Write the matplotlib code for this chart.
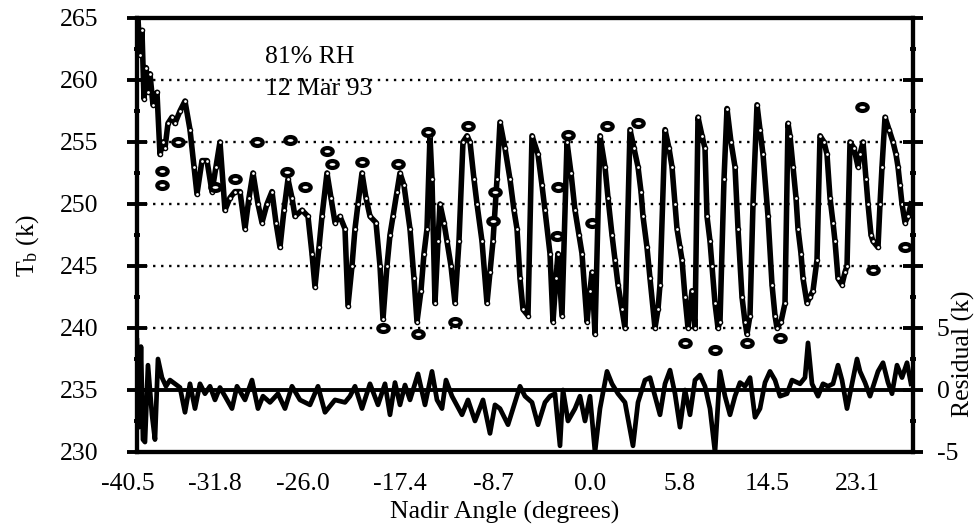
import matplotlib
matplotlib.use("Agg")
import matplotlib.pyplot as plt
import matplotlib.transforms as mtransforms
from matplotlib.markers import MarkerStyle
from matplotlib.ticker import MultipleLocator, FuncFormatter

plt.rcParams["font.family"] = ["Liberation Serif", "DejaVu Serif"]
plt.rcParams["mathtext.fontset"] = "custom"
plt.rcParams["mathtext.rm"] = "Liberation Serif"
plt.rcParams["mathtext.it"] = "Liberation Serif:italic"

# sample index along the scan (x), brightness temperature (K)
scan_x = [0.5, 1.5, 2.5, 3.5, 4.5, 5.5, 6.5, 8, 10, 11.5, 13, 14, 15.5, 17.5, 19, 21.5,
          24, 26.5, 28.5, 30, 32.5, 35, 37.5, 39.5, 41.5, 44, 46.5, 49, 51.5, 54, 56, 58,
          60.5, 62.5, 65, 67.5, 69.5, 71.5, 73.5, 75.5, 77.5, 79, 82.5, 85.5, 87.5, 89,
          91, 92.5, 95, 97, 99, 101.5, 104, 105.5, 107.5, 109, 110.5, 112.5, 114.5, 116.5,
          119.5, 121.5, 123, 125, 126.5, 128, 130, 131.5, 133.5, 136.5, 138.5, 140, 142,
          143.5, 145, 146.5, 147.5, 149, 150.5, 151.5, 153.5, 155, 157, 159, 161, 163, 165,
          166.5, 168.5, 170, 172.5, 175, 176.5, 178, 180, 181.5, 184, 186.5, 188.5, 190,
          191.5, 193, 195.5, 197.5, 200.5, 202.5, 204, 206.5, 208, 209.5, 210.5, 212.5,
          215, 217, 219, 221, 222.5, 225, 226.5, 227.5, 229, 231.5, 234, 235.5, 237.5, 239,
          240.5, 242.5, 244, 246.5, 248.5, 250.5, 252, 253, 255, 256.5, 259, 260.5, 261.5,
          264, 266, 267.5, 269, 270, 271.5, 272.5, 274, 275.5, 277.5, 279, 280.5, 282.5,
          284, 285, 286.5, 287.5, 289, 290.5, 291.5, 293.5, 295, 297, 299, 300.5, 302.5,
          304, 305, 306.5, 308, 310, 311.5, 313, 315.5, 317.5, 319, 320, 322, 324, 325.5,
          326.5, 328, 329.5, 330.5, 332, 333, 335, 336.5, 338, 340, 341.5, 343.5, 345,
          346.5, 348, 349, 350.5, 352.5, 354, 355, 356.5, 358.5, 360.5, 361.5, 363, 364.5,
          365.5, 367, 368, 370.5, 371.5, 372.5, 374, 376, 378, 379.5, 380.5, 381.5, 382.5,
          384, 385.5, 387]
scan_tb = [265, 262, 264, 258.5, 261, 259, 260.5, 258, 259, 254, 255, 254.5, 256.5, 257,
           256.5, 257.5, 258.3, 256, 253, 250.8, 253.5, 253.5, 251, 253, 255, 249.5, 250.5,
           251, 251, 248, 250.5, 252.5, 250, 248.5, 250, 251, 248.5, 246.5, 249.5, 252,
           250.5, 249, 249.5, 249, 246, 243.3, 246.5, 249, 252.5, 250.5, 248.5, 249, 248,
           241.8, 245, 248, 250, 252.5, 250.5, 249, 248.5, 245, 240.7, 245, 247.5, 249, 251,
           252.5, 251.5, 248, 244, 240.5, 243, 246, 248, 255.5, 252, 242, 247, 250, 248.5,
           247, 245, 242, 247, 255, 255.5, 255, 252, 250, 247, 242, 244.5, 247, 252, 256.6,
           254.5, 252, 249.5, 248, 244, 241.5, 241, 255.5, 254, 251.5, 249.5, 246, 240.5,
           244, 246, 241, 255, 252.5, 249.5, 247.5, 246, 240.5, 243, 244.5, 239.5, 255.5,
           253, 250.5, 247.5, 245.5, 243.5, 241.5, 240, 256, 254.5, 253, 251, 249, 246.5,
           244, 240, 241.5, 243.5, 256, 254.5, 253, 250, 248, 246.5, 245.5, 242.5, 240, 243,
           240, 257, 255.5, 254.5, 249, 247, 245, 242, 240, 240.5, 252, 257.7, 255, 253,
           248, 242.5, 240.5, 239.5, 241, 250, 258, 256, 254, 249, 243.5, 241, 240, 240.5,
           242, 256.5, 255.5, 253, 250.5, 248, 246, 244, 242, 242.5, 243, 245.5, 255.5, 255,
           254, 250.5, 248.5, 247, 244, 243.5, 244.5, 245, 255, 254.5, 253, 254, 255, 252,
           250, 247.5, 247, 246.5, 250, 253, 257, 256, 255, 254, 253, 251.5, 250, 248.5,
           249, 250]

# stray measurements plotted as open ovals
extra_x = [12.5, 12.5, 20.5, 39, 49, 60, 75, 76.5, 84, 95, 97.5, 112.5, 130.5, 145.5,
           165.5, 123, 140.5, 159, 178, 179, 210, 210.5, 215.5, 227.5, 235, 250.5, 274,
           289, 305, 321.5, 362.5, 368, 384]
extra_tb = [252.7, 251.5, 255, 251.4, 252, 255, 252.6, 255.2, 251.4, 254.3, 253.2, 253.4,
            253.2, 255.8, 256.3, 240, 239.5, 240.5, 248.6, 251, 247.4, 251.4, 255.6, 248.5,
            256.3, 256.5, 238.8, 238.2, 238.8, 239.2, 257.8, 244.7, 246.5]

# residual (K), right axis
resid_x = [0, 1, 2, 3, 4, 5.5, 7.5, 9, 10.5, 12.5, 14.5, 16.5, 19, 21.5, 24, 26.5, 29,
           31.5, 34, 36.5, 39, 41.5, 44, 47.5, 50, 54, 57.5, 60.5, 63, 66.5, 70.5, 74,
           77.5, 81.5, 86.5, 90.5, 94, 99, 104, 106.5, 109, 112.5, 116.5, 120.5, 124,
           126.5, 129, 131.5, 134, 136.5, 140.5, 144, 147.5, 150, 152.5, 154.5, 157.5,
           162.5, 165.5, 169, 173, 176.5, 179, 181.5, 185.5, 188, 191.5, 194, 197.5, 200.5,
           204, 206.5, 209, 211.5, 213, 215.5, 219, 221.5, 224, 226.5, 229, 231.5, 235,
           237.5, 240.5, 244, 248, 250.5, 254, 256.5, 259, 261.5, 264, 266.5, 269, 271.5,
           274, 276.5, 279, 281.5, 284, 286.5, 289, 291.5, 294, 296.5, 299, 301.5, 304,
           306.5, 309, 311.5, 314, 316.5, 319, 321.5, 325, 327.5, 331.5, 334, 335.5, 337.5,
           340.5, 343, 345.5, 348, 350.5, 352.5, 355, 357.5, 360, 361.5, 364, 366.5, 370.5,
           373, 375.5, 377.5, 380, 382.5, 385, 387]
resid = [4, -3, 3.5, -4, -4.2, 2.0, -2, -4, 2.5, 1, 0.3, 0.8, 0.5, 0.2, -1.8, 0.5, -1.5,
         0.5, -0.3, 0.3, -0.8, 0.2, -0.5, -1.5, 0.3, -0.8, 0.8, -1.5, -0.5, -1, -0.3,
         -1.5, 0.3, -0.8, -1.2, 0.3, -1.8, -0.8, -1, -0.5, 0.3, -1.5, 0.5, -1.2, 0.5, -2.0,
         0.6, -1.2, 0.4, -0.8, 1.3, -1.2, 1.5, -0.8, -1.5, 0.8, -0.5, -2.0, -0.8, -2.5,
         -0.8, -3.5, -1.2, -1.5, -2.8, -1.5, 0.3, -0.5, -1.0, -2.8, -1, -0.5, -0.3, -4.5,
         0, -2.5, -1.5, -0.5, -2.5, -0.5, -5, -1.5, 1.5, 0.5, -0.3, -1, -4.5, -1, 0.8, 1,
         -0.5, -2, 0.5, 1.6, -0.3, -3, 0, -2, 0.8, 1.2, 0.3, -1.5, -5, 1.5, -0.5, -2, -0.5,
         0.6, 0.3, 1.0, -2.2, -1.5, 0.6, 1.5, 0.8, -0.5, -0.3, 0.8, 0.5, 1, 3.8, 0.5, -0.5,
         0.5, 0.3, 0.5, 2, 0.8, -1.5, 0.5, 2.5, 1.5, 0.6, -0.5, 1.5, 2.2, 0.6, -0.3, 2.0,
         1.0, 2.2, 0.5]

tick_pos = [0, 39, 83, 131.5, 178, 226.5, 271.5, 315, 360]
tick_labels = ["-40.5", "-31.8", "-26.0", "-17.4", "-8.7", "0.0", "5.8", "14.5", "23.1"]

fig = plt.figure(figsize=(9.77, 5.26), dpi=100)
ax = fig.add_axes([0.1402, 0.1407, 0.7943, 0.8251])
ax2 = ax.twinx()

FS = 18.5

# dotted grid
for g in [240, 245, 250, 255, 260]:
    ax.axhline(g, color="black", lw=1.7, ls=(0, (1, 2.4)), zorder=1)

oval = MarkerStyle("o", transform=mtransforms.Affine2D().scale(1.5, 1.0))

ax.plot(scan_x, scan_tb, color="black", lw=4.0, marker="o", ms=3.0,
        mfc="white", mec="black", mew=1.0, zorder=3)
ax.plot(extra_x, extra_tb, ls="none", marker=oval, ms=5.0, mfc="white",
        mec="black", mew=3.0, zorder=4)

ax2.axhline(0, color="black", lw=2.8, zorder=2)
ax2.plot(resid_x, resid, color="black", lw=3.4, zorder=3)

ax.set_xlim(0, 388)
ax.set_ylim(230, 265)
ax2.set_ylim(-5, 30)

ax.set_xticks(tick_pos)
ax.set_xticklabels(tick_labels, fontsize=FS)
ax.tick_params(axis="x", length=0, pad=15)
# first label sits a little left of the spine
xoff = mtransforms.ScaledTranslation(-9 / 100, 0, fig.dpi_scale_trans)
lab0 = ax.get_xticklabels()[0]
lab0.set_transform(lab0.get_transform() + xoff)

ax.yaxis.set_major_locator(MultipleLocator(5))
ax.yaxis.set_minor_locator(MultipleLocator(2.5))
ax.tick_params(axis="y", which="major", direction="inout", length=14, width=2.8,
               labelsize=FS, pad=21)
ax.tick_params(axis="y", which="minor", direction="inout", length=5, width=2.8)

ax2.yaxis.set_major_locator(MultipleLocator(5))
ax2.yaxis.set_minor_locator(MultipleLocator(2.5))
ax2.yaxis.set_major_formatter(FuncFormatter(
    lambda v, _: f"{int(v)}" if v in (-5, 0, 5) else ""))
ax2.tick_params(axis="y", which="major", direction="inout", length=14, width=2.8,
                labelsize=FS, pad=10)
ax2.tick_params(axis="y", which="minor", direction="inout", length=5, width=2.8)

for a in (ax, ax2):
    for s in a.spines.values():
        s.set_linewidth(3.0)

ax.text(0.165, 0.896, "81% RH", transform=ax.transAxes, fontsize=FS)
ax.text(0.165, 0.822, "12 Mar 93", transform=ax.transAxes, fontsize=FS)

fig.text(505 / 977, 1 - 512 / 526, "Nadir Angle (degrees)", fontsize=FS,
         ha="center", va="center")
fig.text(28 / 977, 1 - 246 / 526, r"T$_\mathrm{b}$ (k)", fontsize=FS,
         ha="center", va="center", rotation=90)
fig.text(963 / 977, 1 - 354 / 526, "Residual (k)", fontsize=FS,
         ha="center", va="center", rotation=90)

fig.savefig("out.png", dpi=100)
